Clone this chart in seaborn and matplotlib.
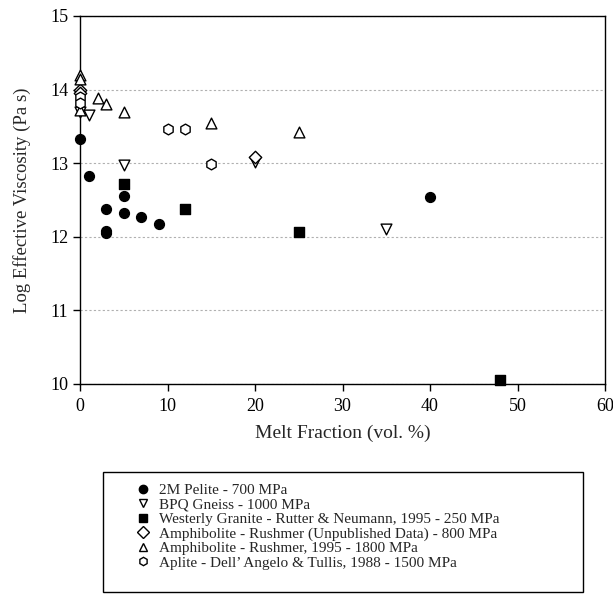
import matplotlib
matplotlib.use("Agg")
import matplotlib.pyplot as plt
from matplotlib.patches import Rectangle
from matplotlib.lines import Line2D
import seaborn as sns

# data
pelite_x = [0, 1, 3, 3, 3, 5, 5, 7, 9, 40]
pelite_y = [13.33, 12.82, 12.38, 12.05, 12.08, 12.56, 12.32, 12.27, 12.17, 12.54]

gneiss_x = [0, 1, 5, 20, 35]
gneiss_y = [13.70, 13.65, 12.97, 13.02, 12.10]

granite_x = [5, 12, 25, 48]
granite_y = [12.72, 12.38, 12.06, 10.06]

amph_unpub_x = [0, 0, 20]
amph_unpub_y = [14.00, 13.95, 13.08]

amph_1995_x = [0, 0, 0, 2, 3, 5, 15, 25]
amph_1995_y = [14.20, 14.15, 13.72, 13.88, 13.81, 13.70, 13.54, 13.42]

aplite_x = [0, 0, 10, 12, 15]
aplite_y = [13.90, 13.82, 13.47, 13.47, 12.99]

labels = [
    "2M Pelite - 700 MPa",
    "BPQ Gneiss - 1000 MPa",
    "Westerly Granite - Rutter & Neumann, 1995 - 250 MPa",
    "Amphibolite - Rushmer (Unpublished Data) - 800 MPa",
    "Amphibolite - Rushmer, 1995 - 1800 MPa",
    "Aplite - Dell\u2019 Angelo & Tullis, 1988 - 1500 MPa",
]

sns.set_style("ticks")
plt.rcParams["font.family"] = ["Liberation Serif", "DejaVu Serif"]

series = [
    (pelite_x, pelite_y, "o", True, 50),
    (gneiss_x, gneiss_y, "v", False, 60),
    (granite_x, granite_y, "s", True, 45),
    (amph_unpub_x, amph_unpub_y, "D", False, 40),
    (amph_1995_x, amph_1995_y, "^", False, 60),
    (aplite_x, aplite_y, "h", False, 60),
]

W, H = 613, 594
fig = plt.figure(figsize=(W / 100, H / 100), dpi=100)
ax = fig.add_axes([80 / W, 1 - 384 / H, 525 / W, 368 / H])

for xs, ys, mk, filled, size in series:
    sns.scatterplot(x=xs, y=ys, marker=mk, s=size, ax=ax,
                    facecolor="black" if filled else "white",
                    edgecolor="black", linewidth=1.0, clip_on=False, zorder=3)

ax.set_xlim(0, 60)
ax.set_ylim(10, 15)
ax.set_xticks(range(0, 61, 10))
ax.set_yticks(range(10, 16))
ax.yaxis.grid(True, linestyle=(0, (2, 2)), color="#b0b0b0", linewidth=0.8)
ax.set_axisbelow(True)
for sp in ax.spines.values():
    sp.set_color("black")
    sp.set_linewidth(1.0)
ax.tick_params(direction="out", length=5, width=1, colors="black", labelsize=13)
ax.tick_params(axis="x", pad=5)
ax.set_xlabel("Melt Fraction (vol. %)", fontsize=14, labelpad=7)
ax.set_ylabel("Log Effective Viscosity (Pa s)", fontsize=13.5, labelpad=14)

# legend box below the plot
fig.patches.append(Rectangle((103 / W, 1 - 592 / H), 480 / W, 120 / H,
                             transform=fig.transFigure, fill=False,
                             edgecolor="black", linewidth=1.0))
handles = []
for xs, ys, mk, filled, size in series:
    handles.append(Line2D([], [], linestyle="none", marker=mk, markersize=6,
                          markerfacecolor="black" if filled else "white",
                          markeredgecolor="black", markeredgewidth=1.0))
fig.legend(handles, labels, loc="upper left",
           bbox_to_anchor=(128 / W, 1 - 476 / H), frameon=False,
           fontsize=11, labelspacing=0.05, handletextpad=0.5,
           handlelength=1.0, borderpad=0)

fig.savefig("out.png", dpi=100)
